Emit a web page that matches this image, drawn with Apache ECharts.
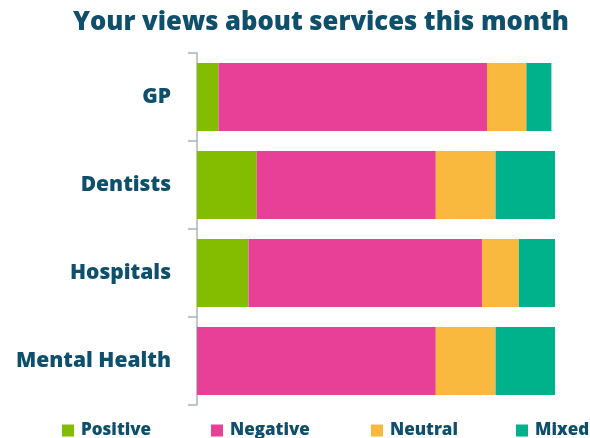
<!DOCTYPE html>
<html><head><meta charset="utf-8">
<script src="https://cdn.jsdelivr.net/npm/echarts@6/dist/echarts.min.js"></script>
<style>html,body{margin:0;padding:0;background:#fff}#c{width:590px;height:438px}</style>
</head><body><div id="c"></div>
<script>
const categories = ['GP', 'Dentists', 'Hospitals', 'Mental Health'];
const positive = [6, 16.7, 14.4, 0];
const negative = [75, 50, 65.2, 66.7];
const neutral = [11, 16.7, 10.3, 16.7];
const mixed = [7, 16.6, 10.1, 16.6];
const seriesNames = ['Positive', 'Negative', 'Neutral', 'Mixed'];
const seriesValues = [positive, negative, neutral, mixed];
const colors = ['#84bd00', '#e84096', '#f9b83e', '#00b28b'];
const FONT = 'Open Sans';
const TXT = '#0e4f6b';
const legendLefts = [57, 206, 366, 511];

const chart = echarts.init(document.getElementById('c'));
chart.setOption({
  animation: false,
  title: {
    text: 'Your views about services this month',
    left: 68, top: 5,
    textStyle: {fontFamily: FONT, fontWeight: 800, fontSize: 25.6, color: TXT}
  },
  legend: seriesNames.map((n, i) => ({
    data: [n], left: legendLefts[i], top: 417, icon: 'rect',
    itemWidth: 12, itemHeight: 12, itemGap: 0,
    textStyle: {fontFamily: FONT, fontWeight: 800, fontSize: 17, color: TXT, padding: [0, 0, 0, 2]}
  })),
  grid: {left: 197, right: 35, top: 53, height: 352},
  xAxis: {type: 'value', min: 0, max: 100, show: false},
  yAxis: {
    type: 'category', data: categories, inverse: true,
    axisLine: {show: true, lineStyle: {color: '#aab4be', width: 1.5}},
    axisTick: {show: true, length: 9, lineStyle: {color: '#aab4be', width: 1.5}},
    axisLabel: {fontFamily: FONT, fontWeight: 800, fontSize: 21, color: TXT, margin: 26}
  },
  series: seriesNames.map((n, i) => ({
    name: n, type: 'bar', stack: 'all', data: seriesValues[i],
    barWidth: 68, itemStyle: {color: colors[i]}
  }))
});
</script></body></html>
